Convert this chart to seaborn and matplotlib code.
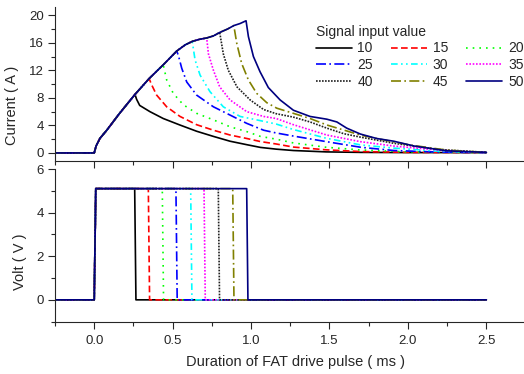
import numpy as np
import pandas as pd
import matplotlib
matplotlib.use("Agg")
import matplotlib.pyplot as plt
import seaborn as sns
from matplotlib.ticker import MultipleLocator, FormatStrFormatter

sns.set_style("ticks")
plt.rcParams['font.family'] = ['Liberation Sans', 'DejaVu Sans']

# ---------------- data ----------------
signal_values = [10, 15, 20, 25, 30, 35, 40, 45, 50]

# shared rising envelope of the current (ms, A)
rise_t = [-0.25, 0.0, 0.012, 0.036, 0.08, 0.16, 0.26, 0.35, 0.44, 0.526,
          0.58, 0.625, 0.67, 0.717, 0.76, 0.80, 0.85, 0.89, 0.93, 0.968]
rise_i = [0.0, 0.0, 1.0, 2.1, 3.3, 5.7, 8.5, 10.8, 12.8, 14.8,
          15.7, 16.2, 16.5, 16.7, 17.0, 17.5, 18.0, 18.5, 18.8, 19.2]

# time the current stops rising for each signal value
current_off_t = [0.26, 0.35, 0.44, 0.526, 0.625, 0.717, 0.80, 0.89, 0.968]

# decay tails after turn-off
decay_t_10 = [0.27, 0.29, 0.355, 0.44, 0.547, 0.653, 0.76, 0.866, 0.972, 1.06, 1.16, 1.27, 1.48, 1.7, 2.0, 2.5]
decay_i_10 = [7.8, 6.9, 6.0, 5.0, 4.05, 3.15, 2.4, 1.7, 1.2, 0.8, 0.55, 0.35, 0.15, 0.08, 0.05, 0.05]
decay_t_15 = [0.366, 0.398, 0.462, 0.547, 0.653, 0.76, 0.866, 0.972, 1.06, 1.16, 1.27, 1.48, 1.7, 2.0, 2.5]
decay_i_15 = [9.9, 8.4, 6.7, 5.3, 4.1, 3.3, 2.6, 2.1, 1.65, 1.3, 0.85, 0.45, 0.2, 0.08, 0.05]
decay_t_20 = [0.462, 0.504, 0.568, 0.653, 0.76, 0.866, 0.972, 1.06, 1.16, 1.27, 1.48, 1.7, 2.0, 2.5]
decay_i_20 = [10.6, 8.65, 7.0, 5.75, 4.8, 3.8, 3.1, 2.4, 2.0, 1.45, 0.82, 0.43, 0.15, 0.05]
decay_t_25 = [0.536, 0.558, 0.59, 0.653, 0.76, 0.866, 0.972, 1.08, 1.16, 1.27, 1.48, 1.7, 1.91, 2.2, 2.5]
decay_i_25 = [14.2, 12.3, 10.3, 8.4, 6.7, 5.5, 4.3, 3.3, 2.9, 2.45, 1.64, 0.82, 0.35, 0.12, 0.05]
decay_t_30 = [0.643, 0.675, 0.738, 0.823, 0.93, 1.057, 1.16, 1.27, 1.48, 1.70, 1.91, 2.2, 2.5]
decay_i_30 = [13.5, 11.3, 8.9, 6.7, 5.3, 4.7, 4.2, 3.4, 2.13, 1.16, 0.7, 0.25, 0.05]
decay_t_35 = [0.728, 0.76, 0.80, 0.866, 0.972, 1.08, 1.16, 1.27, 1.376, 1.483, 1.696, 1.91, 2.2, 2.5]
decay_i_35 = [14.4, 12.0, 9.6, 7.7, 6.0, 5.3, 5.0, 4.1, 3.35, 2.6, 1.64, 1.0, 0.4, 0.05]
decay_t_40 = [0.823, 0.855, 0.91, 0.994, 1.08, 1.16, 1.27, 1.376, 1.483, 1.59, 1.696, 1.91, 2.2, 2.5]
decay_i_40 = [14.4, 12.0, 9.6, 7.7, 6.3, 5.7, 5.2, 4.5, 3.6, 2.8, 2.3, 1.4, 0.5, 0.08]
decay_t_45 = [0.909, 0.94, 0.983, 1.036, 1.10, 1.164, 1.27, 1.376, 1.483, 1.59, 1.696, 1.80, 2.01, 2.25, 2.5]
decay_i_45 = [15.9, 13.0, 10.6, 8.65, 7.3, 6.5, 5.75, 5.0, 4.06, 3.33, 2.6, 2.1, 1.16, 0.4, 0.08]
decay_t_50 = [0.983, 1.015, 1.057, 1.11, 1.185, 1.27, 1.376, 1.483, 1.547, 1.61, 1.696, 1.80, 1.91, 2.04, 2.25, 2.5]
decay_i_50 = [16.9, 14.0, 11.8, 9.5, 7.7, 6.2, 5.3, 4.9, 4.5, 3.6, 2.75, 2.1, 1.7, 1.0, 0.3, 0.08]

decay_t = [decay_t_10, decay_t_15, decay_t_20, decay_t_25, decay_t_30,
           decay_t_35, decay_t_40, decay_t_45, decay_t_50]
decay_i = [decay_i_10, decay_i_15, decay_i_20, decay_i_25, decay_i_30,
           decay_i_35, decay_i_40, decay_i_45, decay_i_50]

# voltage pulses: on at 0 ms, off at these times (ms), level in V
pulse_off_t = [0.258, 0.345, 0.434, 0.521, 0.615, 0.70, 0.791, 0.883, 0.972]
pulse_level = 5.1
pulse_t_start, pulse_t_end = -0.25, 2.5

# ---------------- styles ----------------
colors = ['black', '#FF0000', '#00FF00', '#0000FF', '#00FFFF',
          '#FF00FF', '#202020', '#808000', '#000080']
styles = ['-', (0, (4, 2)), (0, (1, 3)), (0, (6, 2, 1, 2)), (0, (4, 2, 1, 2, 1, 2)),
          (0, (1, 1)), (0, (1, 0.8)), (0, (6, 2, 1, 2)), '-']

fig = plt.figure(figsize=(5.24, 3.74), dpi=100)
ax1 = fig.add_axes([55/524, 1-160.5/374, 469/524, 153.5/374])
ax2 = fig.add_axes([55/524, 1-322.3/374, 469/524, 153.3/374])

for k, sv in enumerate(signal_values):
    off = current_off_t[k]
    ts = [t for t in rise_t if t <= off + 1e-9] + decay_t[k]
    cs = [c for t, c in zip(rise_t, rise_i) if t <= off + 1e-9] + decay_i[k]
    df = pd.DataFrame({'t': ts, 'I': cs})
    sns.lineplot(data=df, x='t', y='I', ax=ax1, color=colors[k], linestyle=styles[k],
                 lw=1.2, estimator=None, sort=False, label=str(sv))
    po = pulse_off_t[k]
    dv = pd.DataFrame({'t': [pulse_t_start, 0.0, 0.01, po, po + 0.008, pulse_t_end],
                       'V': [0, 0, pulse_level, pulse_level, 0, 0]})
    sns.lineplot(data=dv, x='t', y='V', ax=ax2, color=colors[k], linestyle=styles[k],
                 lw=1.2, estimator=None, sort=False)

h, l = ax1.get_legend_handles_labels()
order = [0, 3, 6, 1, 4, 7, 2, 5, 8]
ax1.legend([h[i] for i in order], [l[i] for i in order], ncol=3, frameon=False,
           title='Signal input value', alignment='left', fontsize=10, title_fontsize=10,
           loc='upper left', bbox_to_anchor=(306/524, 1-15/374), bbox_transform=fig.transFigure,
           handlelength=2.6, handletextpad=0.4, columnspacing=1.3, labelspacing=0.2,
           borderpad=0.2)

for ax in (ax1, ax2):
    ax.set_xlim(-0.25, 2.74)
    ax.xaxis.set_major_locator(MultipleLocator(0.5))
    ax.xaxis.set_minor_locator(MultipleLocator(0.25))
    sns.despine(ax=ax, top=True, right=True)
    ax.tick_params(which='major', direction='out', length=5, width=0.8, labelsize=9.5, pad=3)
    ax.tick_params(which='minor', direction='out', length=3, width=0.8)
    for s in ax.spines.values():
        s.set_linewidth(0.8)

ax1.set_ylim(-1.1, 21.2)
ax1.yaxis.set_major_locator(MultipleLocator(4))
ax1.yaxis.set_minor_locator(MultipleLocator(2))
ax1.tick_params(axis='x', labelbottom=False)
ax1.set_xlabel('')
ax1.set_ylabel('Current ( A )', fontsize=10.5)
ax1.yaxis.set_label_coords(-0.077, 0.36)

ax2.set_ylim(-1.03, 6.0)
ax2.yaxis.set_major_locator(MultipleLocator(2))
ax2.yaxis.set_minor_locator(MultipleLocator(1))
ax2.xaxis.set_major_formatter(FormatStrFormatter('%.1f'))
ax2.set_ylabel('Volt ( V )', fontsize=10.5)
ax2.yaxis.set_label_coords(-0.060, 0.397)
ax2.set_xlabel('Duration of FAT drive pulse ( ms )', fontsize=10.5)
ax2.xaxis.set_label_coords(0.513, -0.213)
ax2.tick_params(axis='x', pad=4)

fig.savefig('out.png', dpi=100)
